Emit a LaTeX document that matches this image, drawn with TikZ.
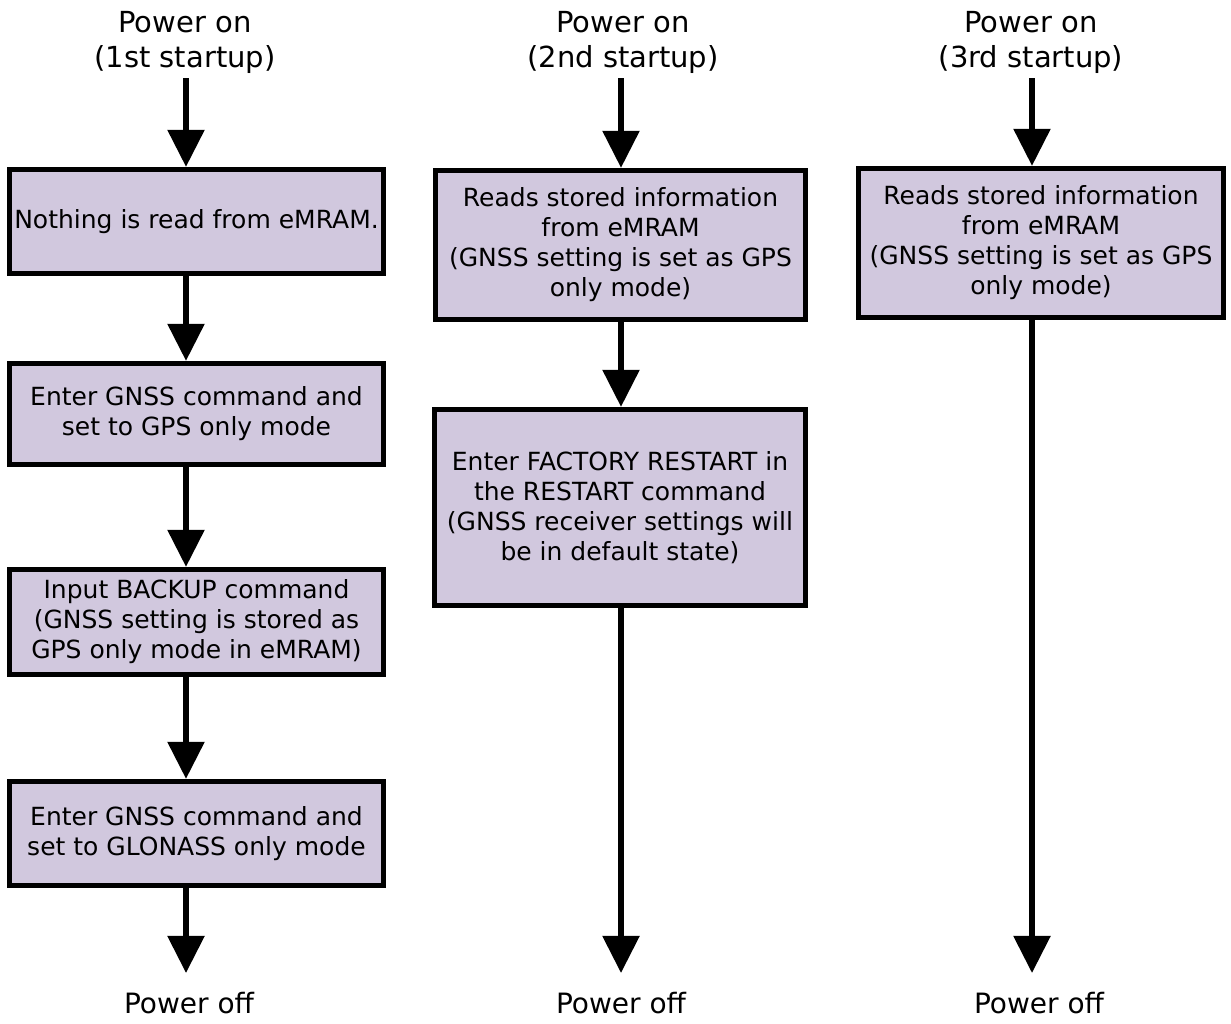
\documentclass[tikz,border=0pt]{standalone}
\usepackage{fontspec}
\setmainfont{DejaVu Sans}
\usetikzlibrary{arrows.meta}
\definecolor{boxfill}{RGB}{209,200,222}
\begin{document}
\begin{tikzpicture}[x=1pt,y=-1pt,
  stepbox/.style={draw=black, line width=5.3pt, fill=boxfill, align=center,
    inner sep=0pt, font=\fontsize{25}{30}\selectfont},
  title/.style={align=center, inner sep=0pt, font=\fontsize{29}{35}\selectfont},
  endtext/.style={inner xsep=0pt, inner ysep=19pt, font=\fontsize{28}{36}\selectfont},
  flow/.style={line width=5.5pt, -{Triangle[width=36pt,length=37pt]}}]
  % canvas
  \fill[white] (0,0) rectangle (1231,1023);
  \useasboundingbox (0,0) rectangle (1231,1023);

  % ---- first startup ----
  \node[title] (t1) at (185,42) {Power on\\(1st startup)};
  \node[stepbox, minimum width=374pt, minimum height=104pt] (a1) at (196.5,221.5)
    {Nothing is read from eMRAM.};
  \node[stepbox, minimum width=374pt, minimum height=101pt] (a2) at (196.5,414)
    {Enter GNSS command and\\set to GPS only mode};
  \node[stepbox, minimum width=374pt, minimum height=105pt] (a3) at (196.5,622)
    {Input BACKUP command\\(GNSS setting is stored as\\GPS only mode in eMRAM)};
  \node[stepbox, minimum width=374pt, minimum height=104pt] (a4) at (196.5,833.5)
    {Enter GNSS command and\\set to GLONASS only mode};
  \node[endtext] (e1) at (189,1003) {Power off};

  % ---- second startup ----
  \node[title] (t2) at (623,42) {Power on\\(2nd startup)};
  \node[stepbox, minimum width=370pt, minimum height=149pt] (b1) at (620.5,245)
    {Reads stored information\\from eMRAM\\(GNSS setting is set as GPS\\only mode)};
  \node[stepbox, minimum width=371pt, minimum height=196pt] (b2) at (620,507.5)
    {Enter FACTORY RESTART in\\the RESTART command\\(GNSS receiver settings will\\be in default state)};
  \node[endtext] (e2) at (621,1003) {Power off};

  % ---- third startup ----
  \node[title] (t3) at (1031,42) {Power on\\(3rd startup)};
  \node[stepbox, minimum width=365pt, minimum height=149pt] (c1) at (1041,243)
    {Reads stored information\\from eMRAM\\(GNSS setting is set as GPS\\only mode)};
  \node[endtext] (e3) at (1039,1003) {Power off};

  % ---- connectors ----
  \coordinate (x1) at (186,0);
  \coordinate (x2) at (621,0);
  \coordinate (x3) at (1032,0);
  \draw[flow] (x1 |- t1.south) ++(0,5) -- (x1 |- a1.north);
  \draw[flow] (x1 |- a1.south) -- (x1 |- a2.north);
  \draw[flow] (x1 |- a2.south) -- (x1 |- a3.north);
  \draw[flow] (x1 |- a3.south) -- (x1 |- a4.north);
  \draw[flow] (x1 |- a4.south) -- (x1 |- e1.north);

  \draw[flow] (x2 |- t2.south) ++(0,5) -- (x2 |- b1.north);
  \draw[flow] (x2 |- b1.south) -- (x2 |- b2.north);
  \draw[flow] (x2 |- b2.south) -- (x2 |- e2.north);

  \draw[flow] (x3 |- t3.south) ++(0,5) -- (x3 |- c1.north);
  \draw[flow] (x3 |- c1.south) -- (x3 |- e3.north);
\end{tikzpicture}
\end{document}
